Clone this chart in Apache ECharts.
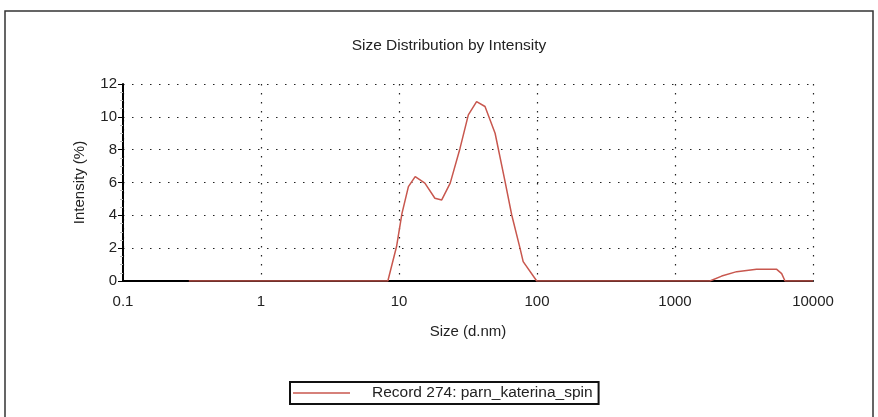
<!DOCTYPE html>
<html>
<head>
<meta charset="utf-8">
<script src="https://cdn.jsdelivr.net/npm/echarts@6/dist/echarts.min.js"></script>
<style>
html,body{margin:0;padding:0;background:#fff;}
#c{width:878px;height:417px;}
</style>
</head>
<body>
<div id="c"></div>
<script>
var sizes = [0.3, 1, 3, 8.3, 9.6, 10.5, 11.7, 13.1, 15.4, 18.2, 20.4, 23.5, 27.7, 31.8, 36.5, 42, 49.7, 58.7, 65.6, 75.3, 79.4, 99.6, 200, 500, 1000, 1790, 2180, 2800, 3900, 5460, 5930, 6270, 10000];
var intensity = [0, 0, 0, 0, 2.1, 4.1, 5.75, 6.36, 5.96, 5.04, 4.94, 5.96, 8.09, 10.12, 10.93, 10.63, 9.0, 6.05, 4.02, 2.0, 1.18, 0, 0, 0, 0, 0, 0.3, 0.57, 0.71, 0.71, 0.45, 0, 0];
var xTickLabels = ['0.1', '1', '10', '100', '1000', '10000'];
var yTicks = [0, 2, 4, 6, 8, 10, 12];
var seriesName = 'Record 274: parn_katerina_spin';
var titleText = 'Size Distribution by Intensity';
var xName = 'Size (d.nm)';
var yName = 'Intensity (%)';

var FONT = '"Liberation Sans", Arial, sans-serif';
var data = sizes.map(function (s, i) { return [s, intensity[i]]; });

var chart = echarts.init(document.getElementById('c'), null, {renderer: 'canvas'});
chart.setOption({
  animation: false,
  backgroundColor: '#fff',
  title: {
    text: titleText,
    left: 444, top: 33, textAlign: 'center',
    textStyle: {fontFamily: FONT, fontSize: 15.5, fontWeight: 'normal', color: '#222'}
  },
  graphic: [{
    type: 'rect', shape: {x: 5, y: 11, width: 868, height: 420},
    style: {fill: null, stroke: '#333', lineWidth: 1.5}, silent: true, z: 0
  }],
  legend: {
    left: 290, top: 382,
    padding: [3, 6, 3, 3],
    borderColor: '#111', borderWidth: 2,
    icon: 'rect', itemWidth: 57, itemHeight: 1.5,
    textStyle: {fontFamily: FONT, fontSize: 15.5, color: '#222', padding: [0, 0, 0, 17]},
    data: [seriesName]
  },
  grid: {left: 123, right: 65, top: 84, bottom: 136, containLabel: false},
  xAxis: {
    type: 'log', logBase: 10, min: 0.1, max: 10000,
    name: xName, nameLocation: 'middle', nameGap: 43,
    nameTextStyle: {fontFamily: FONT, fontSize: 15, color: '#222'},
    axisLine: {lineStyle: {color: '#000', width: 2}},
    axisTick: {show: false},
    axisLabel: {
      fontFamily: FONT, fontSize: 15, color: '#222', margin: 13,
      formatter: function (v) {
        var idx = Math.round(Math.log10(v)) + 1;
        return xTickLabels[idx] !== undefined ? xTickLabels[idx] : '';
      }
    },
    splitLine: {show: true, lineStyle: {color: '#222', type: [1.5, 7.5], width: 1.2}}
  },
  yAxis: {
    type: 'value', min: yTicks[0], max: yTicks[yTicks.length - 1], interval: 2,
    name: yName, nameLocation: 'middle', nameGap: 36,
    nameTextStyle: {fontFamily: FONT, fontSize: 15, color: '#222'},
    axisLine: {show: true, lineStyle: {color: '#000', width: 2}},
    axisTick: {show: true, length: 5, lineStyle: {color: '#000'}},
    minorTick: {show: true, splitNumber: 4, length: 3, lineStyle: {color: '#bbb'}},
    axisLabel: {fontFamily: FONT, fontSize: 15, color: '#222', margin: 6},
    splitLine: {show: true, lineStyle: {color: '#222', type: [1.5, 7.5], width: 1.2}}
  },
  series: [{
    name: seriesName, type: 'line', data: data,
    showSymbol: false, symbol: 'none', smooth: false,
    lineStyle: {color: '#c8574e', width: 1.5},
    itemStyle: {color: '#c8574e'},
    z: 3
  }]
});
</script>
</body>
</html>
